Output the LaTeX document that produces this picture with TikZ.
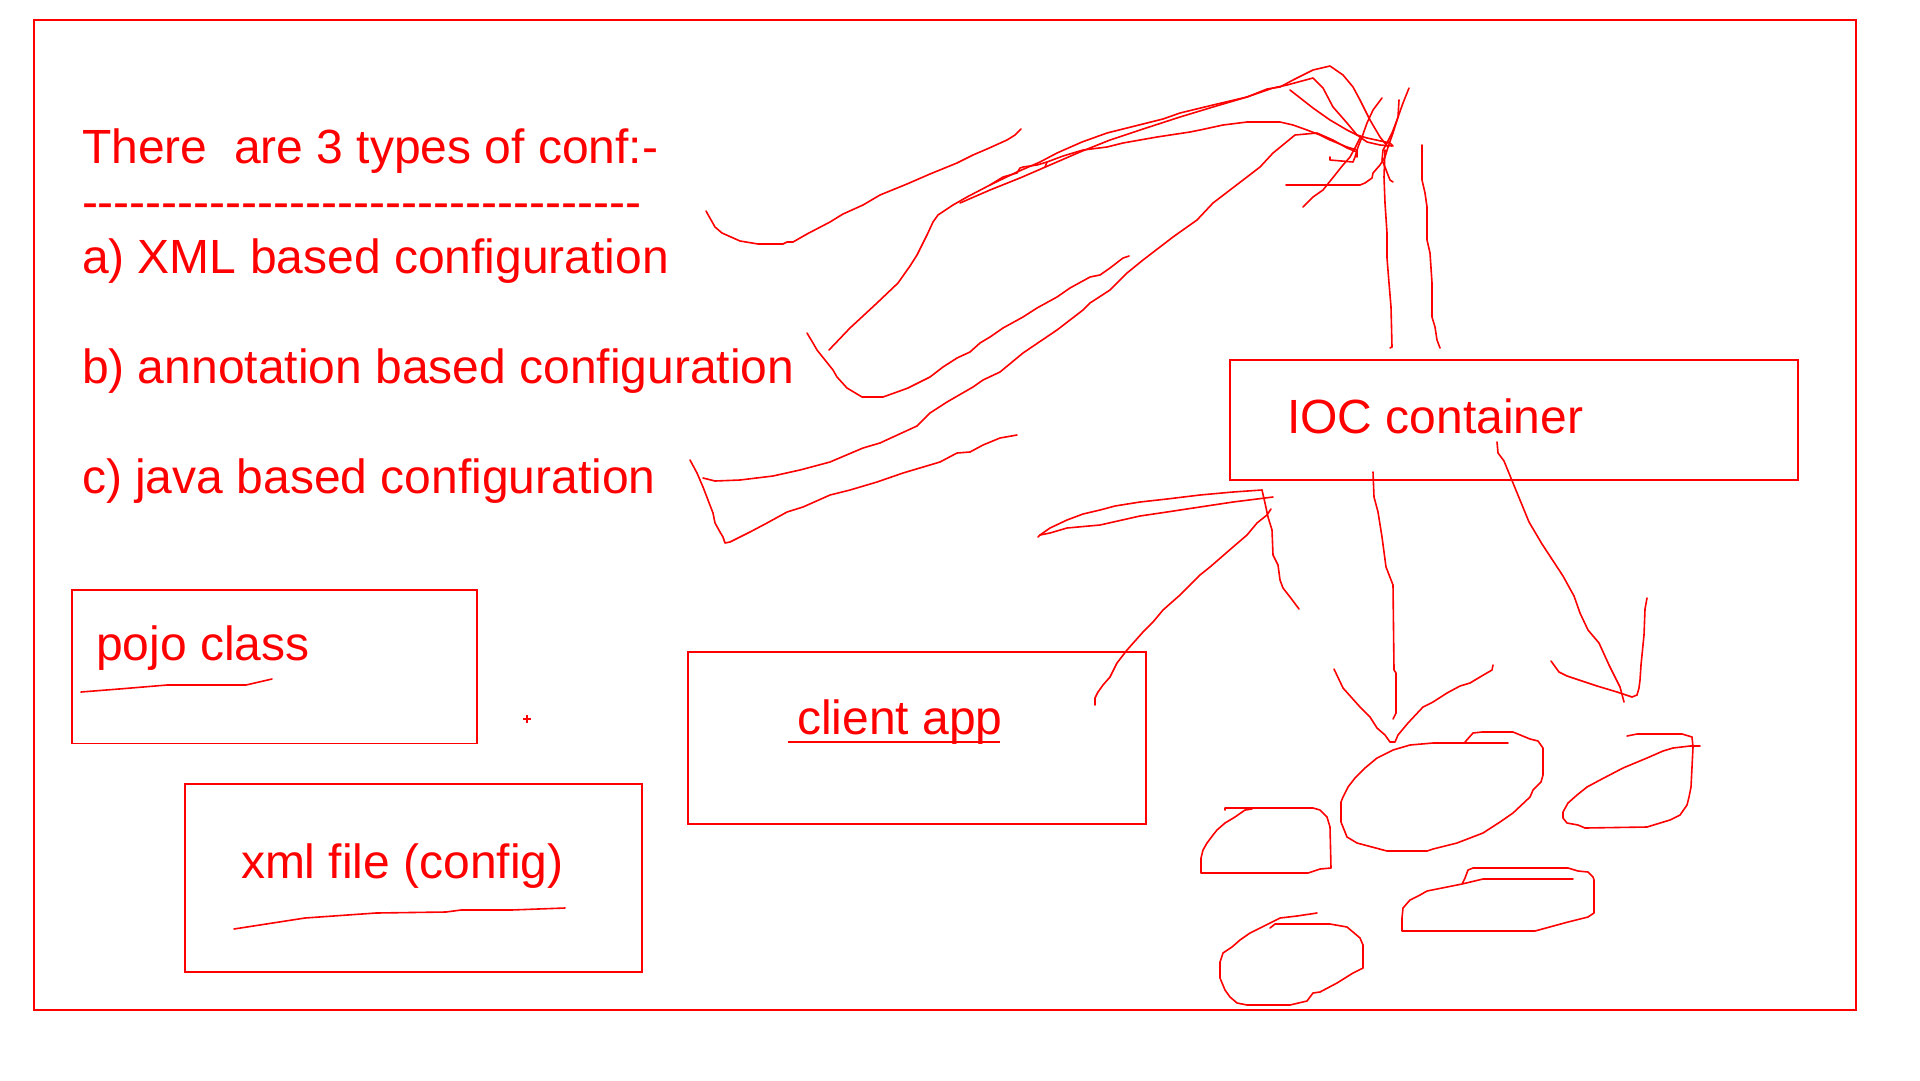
\documentclass[tikz,border=0pt]{standalone}
\usepackage{fontspec}
\setmainfont{Liberation Sans}
\definecolor{pen}{RGB}{255,0,0}
\tikzset{
  box/.style={draw=pen, line width=1.8pt, inner sep=0pt, outer sep=0pt},
  sk/.style={draw=pen, line width=1.6pt, line join=round, line cap=round},
  lbl/.style={text=pen, anchor=base west, inner sep=0pt, outer sep=0pt, font=\fontsize{48}{58}\selectfont},
}
\newcommand\hy{\mbox{-}}
\newcommand\hyfive{\hy\hy\hy\hy\hy}
\begin{document}
\begin{tikzpicture}[x=1pt,y=-1pt]
\useasboundingbox (0,0) rectangle (1920,1080);
\fill[white] (0,0) rectangle (1920,1080);
% frame and boxes
\node[box, minimum width=1822pt, minimum height=990pt] (frame) at (945,515) {};
\node[box, minimum width=405pt, minimum height=153.5pt] (pojobox) at (274.5,666.75) {};
\node[box, minimum width=457pt, minimum height=187.7pt] (xmlbox) at (413.5,877.85) {};
\node[box, minimum width=458.3pt, minimum height=172.3pt] (clientbox) at (916.85,738.15) {};
\node[box, minimum width=568pt, minimum height=120pt] (iocbox) at (1514,420) {};
% texts
\node[lbl] (title) at (82,163) {There\ \ are 3 types of conf:-};
\node[lbl] (rule) at (82,218) {\hyfive\hyfive\hyfive\hyfive\hyfive\hyfive\hyfive};
\node[lbl] (ta) at (82,273) {a) XML based configuration};
\node[lbl] (tb) at (82,383) {b) annotation based configuration};
\node[lbl] (tc) at (82,493) {c) java based configuration};
\node[lbl] (pojo) at (96,660) {pojo class};
\node[lbl] (xml) at (241,878) {xml file (config)};
\node[lbl] (client) at (797,734) {client app};
\node[lbl] (ioc) at (1287,433) {IOC container};
% underlines
\draw[pen, line width=2.2pt] ([xshift=-9pt,yshift=-8pt]client.base west) -- ([xshift=-2pt,yshift=-8pt]client.base east);
\draw[sk] (81,692)--(119,689)--(167,685)--(246,685)--(272,679);
\draw[sk] (234,929)--(305,918)--(376,913)--(446,912)--(461,910)--(511,910)--(565,908);
% plus mark
\draw[pen, line width=1.3pt] (523,719) -- (531,719) (527,715) -- (527,723);
% strokes near the list
\draw[sk] (706,211)--(715,227)--(722,233)--(740,241)--(758,244)--(783,244)--(787,242)--(793,242)--(807,234)--(830,222)--(843,214)--(863,205)--(880,195)--(907,184)--(930,174)--(957,163)--(973,155)--(987,149)--(1007,140)--(1015,135)--(1021,129);
\draw[sk] (829,350)--(850,328)--(877,303)--(898,283)--(910,266)--(917,255)--(927,235)--(933,222)--(938,215)--(953,205)--(967,197)--(990,185)--(1017,172)--(1040,162)--(1057,153)--(1082,142)--(1107,133)--(1143,124)--(1163,119)--(1180,113)--(1213,105)--(1247,97)--(1267,89)--(1280,87)--(1293,80)--(1313,70)--(1330,66)--(1343,75)--(1353,87)--(1360,100)--(1370,120)--(1380,137)--(1388,147);
\draw[sk] (960,203)--(990,190)--(1020,178)--(1050,165)--(1080,152)--(1110,140)--(1140,130)--(1180,117)--(1213,107)--(1247,97)--(1273,88)--(1287,85)--(1313,78)--(1323,88)--(1333,107)--(1347,123)--(1357,135)--(1367,142)--(1380,145)--(1392,146);
\draw[sk] (990,185)--(1003,177)--(1017,173)--(1020,168)--(1023,167)--(1037,165)--(1047,162)--(1063,156)--(1083,150)--(1107,147)--(1123,143)--(1157,137)--(1190,132)--(1200,130)--(1223,125)--(1247,122)--(1280,122)--(1293,125)--(1307,130)--(1320,135)--(1330,140)--(1347,147)--(1357,150)--(1357,157);
\draw[sk] (1047,162)--(1045,167);
\draw[sk] (1290,90)--(1313,108)--(1330,120)--(1347,130)--(1357,135)--(1367,138)--(1390,143)--(1393,146);
\draw[sk] (703,478)--(715,481)--(740,480)--(773,476)--(800,470)--(830,462)--(863,448)--(880,443)--(893,437)--(917,426)--(930,413)--(947,402)--(973,387)--(983,380)--(1000,372)--(1023,353)--(1057,330)--(1083,310)--(1090,303)--(1110,290)--(1127,273)--(1143,260)--(1173,237)--(1180,232)--(1197,220)--(1213,203)--(1230,190)--(1247,177)--(1260,167)--(1273,153)--(1295,135)--(1317,133)--(1333,140)--(1347,148)--(1357,152);
\draw[sk] (690,460)--(697,473)--(703,487)--(708,500)--(713,513)--(715,523)--(720,532)--(723,537)--(725,543)--(730,542)--(750,532)--(767,523)--(787,512)--(803,507)--(830,495)--(850,490)--(877,482)--(903,473)--(940,462)--(957,453)--(970,452)--(983,445)--(1000,438)--(1017,435);
\draw[sk] (807,333)--(813,343)--(817,350)--(825,360)--(833,370)--(837,377)--(847,388)--(862,397)--(883,397)--(897,392)--(908,388)--(920,382)--(930,377)--(943,367)--(957,358)--(970,352)--(980,343)--(990,337)--(1003,328)--(1023,317)--(1037,308)--(1057,297)--(1070,288)--(1090,277)--(1100,275)--(1110,268)--(1123,258)--(1129,256);
% crossing scribbles
\draw[sk] (1382,98)--(1373,110)--(1367,123)--(1362,137)--(1358,147)--(1355,157)--(1353,162)--(1330,160)--(1330,157);
\draw[sk] (1303,207)--(1313,197)--(1323,190)--(1327,185)--(1335,175)--(1343,165)--(1350,157)--(1355,148)--(1360,138);
\draw[sk] (1286,185)--(1360,185)--(1365,183)--(1372,178)--(1373,173)--(1380,165)--(1385,157)--(1388,147)--(1393,133)--(1398,117)--(1399,100);
\draw[sk] (1409,88)--(1403,103)--(1397,120)--(1392,133)--(1387,143)--(1383,150)--(1382,160)--(1385,167)--(1388,175)--(1390,180)--(1393,182);
\draw[sk] (1385,150)--(1384,177)--(1385,203)--(1387,233)--(1387,258)--(1389,283)--(1391,307)--(1392,347)--(1390,348);
\draw[sk] (1422,145)--(1422,180)--(1425,193)--(1427,207)--(1427,240)--(1430,253)--(1432,283)--(1432,317)--(1435,327)--(1437,340)--(1440,348);
% lens and strokes to client app
\draw[sk] (1262,490)--(1233,492)--(1200,495)--(1167,499)--(1140,502)--(1115,506)--(1100,510)--(1083,514)--(1067,520)--(1050,528)--(1040,535)--(1038,537);
\draw[sk] (1273,497)--(1233,502)--(1200,507)--(1167,512)--(1140,516)--(1100,525)--(1067,528)--(1050,533)--(1040,535);
\draw[sk] (1262,490)--(1265,503)--(1268,517)--(1272,530)--(1273,555)--(1278,565)--(1280,580)--(1283,588)--(1290,597)--(1299,609);
\draw[sk] (1271,509)--(1267,515)--(1257,523)--(1247,535)--(1233,547)--(1210,567)--(1200,575)--(1180,595)--(1163,610)--(1153,622)--(1143,632)--(1127,650)--(1117,663)--(1110,677)--(1103,685)--(1098,692)--(1095,698)--(1095,705);
% arrows out of the IOC container
\draw[sk] (1373,472)--(1374,497)--(1378,512)--(1382,537)--(1386,567)--(1393,585)--(1394,670)--(1396,673)--(1396,713)--(1393,719);
\draw[sk] (1334,669)--(1343,688)--(1360,707)--(1370,717)--(1377,728)--(1385,735)--(1390,742)--(1395,742)--(1398,735)--(1408,723)--(1423,707)--(1433,702)--(1447,693)--(1460,686)--(1470,683)--(1480,677)--(1492,670)--(1493,665);
\draw[sk] (1497,442)--(1498,453)--(1504,461)--(1513,483)--(1529,522)--(1542,544)--(1563,576)--(1574,596)--(1580,613)--(1588,630)--(1599,643)--(1609,665)--(1620,687)--(1624,702);
\draw[sk] (1551,661)--(1559,672)--(1567,676)--(1597,686)--(1617,692)--(1632,697)--(1637,695)--(1639,688)--(1640,680)--(1641,665)--(1644,635)--(1645,609)--(1647,598);
% blobs (objects)
\draw[sk] (1465,742)--(1473,733)--(1482,732)--(1513,732)--(1530,739)--(1538,741)--(1543,748)--(1543,775)--(1541,782)--(1533,790)--(1530,797)--(1513,813)--(1500,822)--(1483,833)--(1457,843)--(1433,849)--(1427,851)--(1387,851)--(1357,843)--(1347,837)--(1343,827)--(1341,822)--(1341,802)--(1343,797)--(1348,787)--(1355,778)--(1365,768)--(1377,758)--(1393,750)--(1410,745)--(1433,743)--(1508,743);
\draw[sk] (1225,810)--(1225,808)--(1313,808)--(1320,810)--(1327,817)--(1330,827)--(1331,868)--(1320,869)--(1308,873)--(1201,873)--(1201,858)--(1203,850)--(1207,843)--(1213,835)--(1217,830)--(1225,823)--(1235,817)--(1245,810)--(1252,809);
\draw[sk] (1627,736)--(1637,734)--(1682,734)--(1692,737)--(1693,747)--(1692,767)--(1691,787)--(1689,797)--(1687,805)--(1680,815)--(1670,820)--(1647,827)--(1585,828)--(1578,825)--(1567,823)--(1563,818)--(1563,812)--(1568,803)--(1577,795)--(1587,787)--(1600,780)--(1623,768)--(1647,758)--(1663,751)--(1673,748)--(1690,746)--(1700,746);
\draw[sk] (1462,884)--(1465,878)--(1468,870)--(1473,868)--(1568,868)--(1578,871)--(1588,872)--(1593,877)--(1594,880)--(1594,913)--(1588,917)--(1568,922)--(1535,931)--(1402,931)--(1402,918)--(1403,908)--(1410,900)--(1420,895)--(1427,891)--(1447,887)--(1462,884)--(1483,879)--(1573,879);
\draw[sk] (1270,928)--(1275,924)--(1330,924)--(1347,927)--(1353,932)--(1360,938)--(1363,945)--(1363,968)--(1353,973)--(1337,983)--(1320,992)--(1313,993)--(1307,1001)--(1290,1005)--(1247,1005)--(1237,1003)--(1230,997)--(1225,990)--(1220,978)--(1220,962)--(1223,953)--(1232,947)--(1240,940)--(1250,933)--(1260,928)--(1280,918)--(1297,916)--(1317,913);
\end{tikzpicture}
\end{document}
